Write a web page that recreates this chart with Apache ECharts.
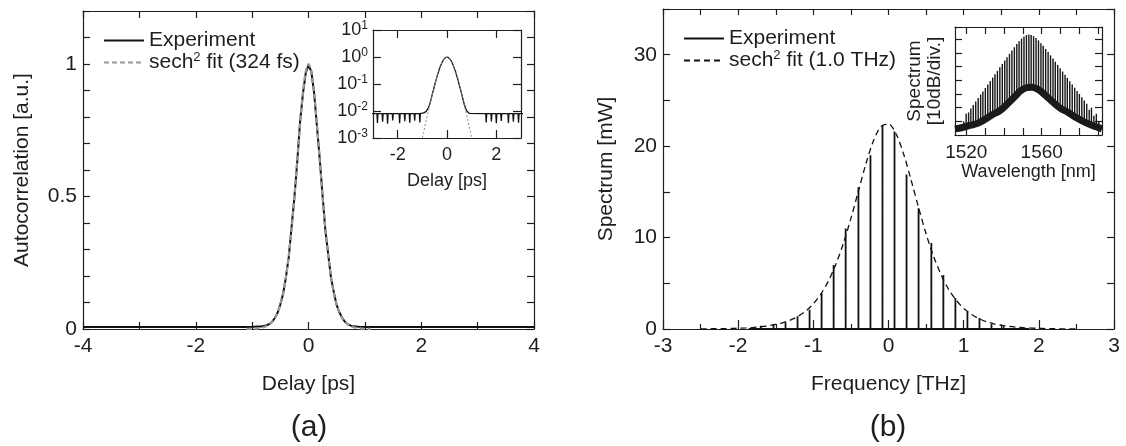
<!DOCTYPE html>
<html>
<head>
<meta charset="utf-8">
<script src="https://cdn.jsdelivr.net/npm/echarts@6/dist/echarts.min.js"></script>
<style>
  html, body { margin: 0; padding: 0; background: #fff; }
  #chart { width: 1126px; height: 446px; }
</style>
</head>
<body>
<div id="chart"></div>
<script>
// ---------- (a) intensity autocorrelation ----------
const acDelay = [-4.00, -3.40, -3.00,
  -2.84, -2.82, -2.80, -2.63, -2.61, -2.59, -2.43, -2.41, -2.39, -2.22, -2.20, -2.18,
  -1.94, -1.92, -1.90, -1.73, -1.71, -1.69, -1.53, -1.51, -1.49, -1.33, -1.31, -1.29,
  -1.12, -1.10, -1.08,
  -1.00, -0.95, -0.90, -0.85, -0.80, -0.75, -0.70, -0.65, -0.60, -0.55,
  -0.50, -0.45, -0.40, -0.35, -0.30, -0.25, -0.20, -0.15, -0.10, -0.05,
  0.00, 0.05, 0.10, 0.15, 0.20, 0.25, 0.30, 0.35, 0.40, 0.45,
  0.50, 0.55, 0.60, 0.65, 0.70, 0.75, 0.80, 0.85, 0.90, 0.95,
  1.57, 1.59, 1.61, 1.78, 1.80, 1.82, 1.98, 2.00, 2.02, 2.18, 2.20, 2.22,
  2.47, 2.49, 2.51, 2.67, 2.69, 2.71, 2.88, 2.90, 2.92,
  3.00, 3.40, 4.00];
const acSignal = [0.008, 0.008, 0.008,
  0.008, 0.0036, 0.008, 0.008, 0.0040, 0.008, 0.008, 0.0034, 0.008, 0.008, 0.0045, 0.008,
  0.008, 0.0035, 0.008, 0.008, 0.0042, 0.008, 0.008, 0.0037, 0.008, 0.008, 0.0044, 0.008,
  0.008, 0.0038, 0.008,
  0.0082, 0.0085, 0.0098, 0.0095, 0.0112, 0.0135, 0.0180, 0.0262, 0.0405, 0.0600,
  0.0920, 0.1330, 0.1960, 0.2720, 0.3850, 0.4970, 0.6300, 0.7800, 0.8850, 0.9650,
  0.9950, 0.9720, 0.8900, 0.7650, 0.6400, 0.5020, 0.3700, 0.2820, 0.1920, 0.1380,
  0.0900, 0.0620, 0.0410, 0.0265, 0.0178, 0.0128, 0.0100, 0.0090, 0.0082, 0.0080,
  0.008, 0.0038, 0.008, 0.008, 0.0041, 0.008, 0.008, 0.0035, 0.008, 0.008, 0.0043, 0.008,
  0.008, 0.0036, 0.008, 0.008, 0.0040, 0.008, 0.008, 0.0037, 0.008,
  0.008, 0.008, 0.008];

const acFitDelay = [-1.10, -1.05, -1.00, -0.95, -0.90, -0.85, -0.80, -0.75, -0.70, -0.65,
  -0.60, -0.55, -0.50, -0.45, -0.40, -0.35, -0.30, -0.25, -0.20, -0.15, -0.10, -0.05,
  0.00, 0.05, 0.10, 0.15, 0.20, 0.25, 0.30, 0.35, 0.40, 0.45, 0.50, 0.55,
  0.60, 0.65, 0.70, 0.75, 0.80, 0.85, 0.90, 0.95, 1.00, 1.05, 1.10];
const acFitValue = [0.000378, 0.000616, 0.00100, 0.00162, 0.00261, 0.00418, 0.00667, 0.01056, 0.0166, 0.0259,
  0.0400, 0.0610, 0.0916, 0.1352, 0.1955, 0.2759, 0.3778, 0.4998, 0.6354, 0.7712, 0.8896, 0.9709,
  1.0000, 0.9709, 0.8896, 0.7712, 0.6354, 0.4998, 0.3778, 0.2759, 0.1955, 0.1352, 0.0916, 0.0610,
  0.0400, 0.0259, 0.0166, 0.01056, 0.00667, 0.00418, 0.00261, 0.00162, 0.00100, 0.000616, 0.000378];

const acXTickLabels = [-4, -2, 0, 2, 4];
const acYTickLabels = [0, 0.5, 1];
const acInsetXTicks = [-2, 0, 2];

// ---------- (b) optical spectrum ----------
const combFreq = [-1.86, -1.70, -1.53, -1.37, -1.21, -1.05, -0.89, -0.73, -0.57, -0.40, -0.24, -0.08,
  0.08, 0.24, 0.40, 0.57, 0.73, 0.89, 1.05, 1.21, 1.37, 1.53, 1.70, 1.86];
const combPower = [0.2, 0.35, 0.55, 0.75, 1.4, 2.1, 3.9, 7.0, 11.0, 15.5, 19.0, 22.2,
  21.6, 16.9, 13.2, 9.4, 5.9, 3.4, 1.9, 1.2, 0.55, 0.3, 0.15, 0.1];

const spFitFreq = [-2.5, -2.4, -2.3, -2.2, -2.1, -2.0, -1.9, -1.8, -1.7, -1.6, -1.5, -1.4, -1.3,
  -1.2, -1.1, -1.0, -0.9, -0.8, -0.7, -0.6, -0.5, -0.4, -0.3, -0.2, -0.1, 0.0,
  0.1, 0.2, 0.3, 0.4, 0.5, 0.6, 0.7, 0.8, 0.9, 1.0, 1.1, 1.2, 1.3,
  1.4, 1.5, 1.6, 1.7, 1.8, 1.9, 2.0, 2.1, 2.2, 2.3, 2.4, 2.5];
const spFitPower = [0.015, 0.021, 0.030, 0.043, 0.061, 0.086, 0.123, 0.174, 0.248, 0.352, 0.498, 0.706, 0.998,
  1.406, 1.97, 2.76, 3.82, 5.24, 7.07, 9.38, 12.10, 15.09, 18.08, 20.59, 22.16, 22.44,
  21.36, 19.17, 16.32, 13.29, 10.41, 7.94, 5.92, 4.34, 3.15, 2.26, 1.61, 1.145, 0.810,
  0.573, 0.404, 0.285, 0.200, 0.141, 0.099, 0.070, 0.049, 0.035, 0.024, 0.017, 0.012];

const spXTickLabels = [-3, -2, -1, 0, 1, 2, 3];
const spYTickLabels = [0, 10, 20, 30];

// comb lines on the OSA trace (wavelength, floor level, peak level in dB)
const osaWl = [1518.6, 1519.9, 1521.2, 1522.4, 1523.7, 1525.0, 1526.3, 1527.6, 1528.8, 1530.1,
  1531.4, 1532.7, 1534.0, 1535.2, 1536.5, 1537.8, 1539.1, 1540.4, 1541.6, 1542.9,
  1544.2, 1545.5, 1546.8, 1548.0, 1549.3, 1550.6, 1551.9, 1553.2, 1554.4, 1555.7,
  1557.0, 1558.3, 1559.6, 1560.8, 1562.1, 1563.4, 1564.7, 1566.0, 1567.2, 1568.5,
  1569.8, 1571.1, 1572.4, 1573.6, 1574.9, 1576.2, 1577.5, 1578.8, 1580.0, 1581.3,
  1582.6, 1583.9, 1585.2, 1586.4, 1587.7, 1589.0, 1590.3];
const osaPeak = [-70.0, -64.5, -63.5, -60.6, -58.1, -55.5, -53.0, -50.4, -48.1, -45.6,
  -43.0, -40.5, -38.0, -35.6, -33.1, -30.5, -28.0, -25.5, -23.1, -20.6,
  -18.2, -15.8, -13.4, -11.4, -9.5, -7.9, -6.9, -6.5, -6.8, -7.7,
  -9.1, -10.8, -12.9, -14.8, -17.1, -19.3, -21.7, -24.1, -26.4, -28.8,
  -31.2, -33.6, -36.0, -38.2, -40.6, -43.0, -45.4, -47.8, -50.0, -52.4,
  -54.8, -57.2, -61.5, -60.0, -66.0, -64.5, -70.0];
const osaFloor = [-74.3, -73.8, -73.3, -72.9, -72.4, -71.9, -71.3, -70.5, -69.5, -68.4,
  -67.3, -66.1, -65.0, -64.1, -63.1, -62.1, -60.7, -59.0, -57.5, -55.8,
  -54.0, -52.0, -50.2, -48.8, -47.2, -46.2, -45.4, -45.1, -45.0, -45.3,
  -46.0, -46.7, -48.0, -49.4, -51.0, -52.5, -54.1, -55.8, -57.2, -58.7,
  -60.2, -61.3, -62.3, -63.2, -64.3, -65.4, -66.5, -67.6, -68.5, -69.2,
  -70.0, -70.8, -71.6, -72.5, -73.2, -74.0, -74.6];
// broadband pedestal under the comb
const pedWl = [1514, 1518, 1522, 1526, 1530, 1534, 1538, 1542, 1546, 1549, 1552,
  1555, 1558, 1562, 1566, 1570, 1574, 1578, 1582, 1586, 1589, 1592];
const pedDb = [-75.5, -74.5, -73.0, -71.5, -68.5, -65.0, -62.0, -57.0, -51.5, -47.5, -45.3,
  -45.0, -46.5, -51.0, -56.0, -60.5, -63.5, -67.0, -70.0, -72.5, -74.0, -75.5];

const osaXTicks = [1520, 1530, 1540, 1550, 1560, 1570, 1580, 1590];
const osaXTickLabels = [1520, 1560];

// ---------- styling ----------
const FONT = '"Liberation Sans", Arial, Helvetica, sans-serif';
const INK = '#1e1e1e';
const MAIN_SIZE = 21;
const INSET_SIZE = 18;
const AC_FIT_NAME = 'sech2 fit (324 fs)';
const SP_FIT_NAME = 'sech2 fit (1.0 THz)';

const zip = (xs, ys) => xs.map((x, i) => [x, ys[i]]);
const pick = list => v => {
  const hit = list.find(t => Math.abs(t - v) < 1e-6);
  return hit === undefined ? '' : String(hit);
};

function axis(extra, fontSize) {
  const size = fontSize || MAIN_SIZE;
  const base = {
    type: 'value',
    splitLine: { show: false },
    axisLine: { show: true, onZero: false, lineStyle: { color: INK, width: 1.2 } },
    axisTick: { show: true, inside: true, length: 7, lineStyle: { color: INK, width: 1.2 } },
    axisLabel: { color: INK, fontFamily: FONT, fontSize: size, margin: 8 },
    nameTextStyle: { color: INK, fontFamily: FONT, fontSize: size },
    nameLocation: 'middle'
  };
  const out = Object.assign({}, base, extra);
  ['axisLine', 'axisTick', 'axisLabel', 'nameTextStyle', 'minorTick'].forEach(k => {
    if (extra[k]) out[k] = Object.assign({}, base[k] || {}, extra[k]);
  });
  return out;
}

const supRich = (size, supSize) => ({
  t: { fontFamily: FONT, fontSize: size, color: INK, lineHeight: size + 2 },
  s: { fontFamily: FONT, fontSize: supSize, color: INK, verticalAlign: 'top', lineHeight: supSize }
});
const legendFormatter = name => name.startsWith('sech2')
  ? '{t|sech}{s|2}{t|' + name.slice(5) + '}'
  : '{t|' + name + '}';
const legendBase = {
  orient: 'vertical', itemWidth: 40, itemHeight: 14, itemGap: 0, padding: 0, selectedMode: false,
  itemStyle: { opacity: 0, borderWidth: 0 },
  formatter: legendFormatter, textStyle: { rich: supRich(MAIN_SIZE, 13) }
};

const option = {
  animation: false,
  backgroundColor: '#ffffff',
  grid: [
    { left: 83, top: 11, width: 451, height: 318, outerBoundsMode: 'none' },
    { left: 373, top: 30, width: 148, height: 108, outerBoundsMode: 'none' },
    { left: 663, top: 9, width: 451, height: 320, outerBoundsMode: 'none' },
    { left: 955, top: 27, width: 147, height: 108, outerBoundsMode: 'none' }
  ],
  xAxis: [
    axis({ gridIndex: 0, min: -4, max: 4, interval: 1, position: 'bottom',
      axisLabel: { formatter: pick(acXTickLabels), margin: 7 }, name: 'Delay [ps]', nameGap: 45 }),
    axis({ gridIndex: 0, min: -4, max: 4, interval: 1, position: 'top', axisLabel: { show: false } }),
    axis({ gridIndex: 1, min: -3, max: 3, position: 'bottom',
      axisTick: { customValues: acInsetXTicks, length: 8 },
      axisLabel: { customValues: acInsetXTicks, margin: 8 }, name: 'Delay [ps]', nameGap: 34 }, INSET_SIZE),
    axis({ gridIndex: 1, min: -3, max: 3, position: 'top',
      axisTick: { customValues: acInsetXTicks, length: 8 }, axisLabel: { show: false } }, INSET_SIZE),
    axis({ gridIndex: 2, min: -3, max: 3, interval: 1, position: 'bottom',
      axisTick: { length: 9 }, minorTick: { show: true, splitNumber: 2, length: 5, lineStyle: { color: INK, width: 1.2 } },
      axisLabel: { formatter: pick(spXTickLabels), margin: 7 }, name: 'Frequency [THz]', nameGap: 45 }),
    axis({ gridIndex: 2, min: -3, max: 3, interval: 1, position: 'top',
      axisTick: { length: 6 }, minorTick: { show: true, splitNumber: 2, length: 6, lineStyle: { color: INK, width: 1.2 } },
      axisLabel: { show: false } }),
    axis({ gridIndex: 3, min: 1514, max: 1592, position: 'bottom',
      axisTick: { customValues: osaXTicks, length: 7 },
      axisLabel: { customValues: osaXTickLabels, margin: 8, formatter: v => String(v), fontSize: 19 },
      name: 'Wavelength [nm]', nameGap: 28 }, INSET_SIZE),
    axis({ gridIndex: 3, min: 1514, max: 1592, position: 'top',
      axisTick: { customValues: osaXTicks, length: 7 }, axisLabel: { show: false } }, INSET_SIZE)
  ],
  yAxis: [
    axis({ gridIndex: 0, min: 0, max: 1.2, interval: 0.1, position: 'left',
      axisLabel: { formatter: pick(acYTickLabels), margin: 6 }, name: 'Autocorrelation [a.u.]', nameGap: 50 }),
    axis({ gridIndex: 0, min: 0, max: 1.2, interval: 0.1, position: 'right', axisLabel: { show: false } }),
    axis({ gridIndex: 1, type: 'log', logBase: 10, min: 0.001, max: 10, position: 'left',
      axisTick: { length: 8 },
      axisLabel: {
        margin: 5,
        formatter: v => '{t|10}{s|' + Math.round(Math.log10(v)) + '}',
        rich: supRich(INSET_SIZE, 12)
      } }, INSET_SIZE),
    axis({ gridIndex: 1, type: 'log', logBase: 10, min: 0.001, max: 10, position: 'right',
      axisTick: { length: 8 }, axisLabel: { show: false } }, INSET_SIZE),
    axis({ gridIndex: 2, min: 0, max: 35, interval: 5, position: 'left',
      axisLabel: { formatter: pick(spYTickLabels), margin: 6 }, name: 'Spectrum [mW]', nameGap: 46 }),
    axis({ gridIndex: 2, min: 0, max: 35, interval: 5, position: 'right', axisLabel: { show: false } }),
    axis({ gridIndex: 3, min: -80, max: -1, interval: 10, position: 'left',
      axisLabel: { show: false }, name: 'Spectrum\n[10dB/div.]', nameGap: 10,
      nameTextStyle: { lineHeight: 20, fontSize: 19 } }, INSET_SIZE),
    axis({ gridIndex: 3, min: -80, max: -1, interval: 10, position: 'right', axisLabel: { show: false } }, INSET_SIZE)
  ],
  legend: [
    Object.assign({ data: ['Experiment', AC_FIT_NAME], left: 103, top: 30 }, legendBase),
    Object.assign({ data: ['Experiment', SP_FIT_NAME], left: 683, top: 28 }, legendBase)
  ],
  series: [
    // (a) main, linear scale
    { type: 'line', name: 'Experiment', xAxisIndex: 0, yAxisIndex: 0, data: zip(acDelay, acSignal),
      symbol: 'none', color: '#111', lineStyle: { color: '#111', width: 2 }, z: 3 },
    { type: 'line', name: AC_FIT_NAME, xAxisIndex: 0, yAxisIndex: 0, data: zip(acFitDelay, acFitValue),
      symbol: 'none', smooth: 0.3, color: '#9a9a9a', lineStyle: { color: '#9a9a9a', width: 2.2, type: [5, 3] }, z: 4 },
    // (a) inset, log scale
    { type: 'line', name: 'Autocorrelation (log)', xAxisIndex: 2, yAxisIndex: 2, data: zip(acDelay, acSignal),
      symbol: 'none', lineStyle: { color: '#111', width: 1.3 }, z: 3 },
    { type: 'line', name: 'Fit (log)', xAxisIndex: 2, yAxisIndex: 2, data: zip(acFitDelay, acFitValue),
      symbol: 'none', smooth: 0.3, lineStyle: { color: '#8a8a8a', width: 1, type: [2, 2] }, z: 4 },
    // (b) main, comb lines
    { type: 'line', name: 'Experiment', xAxisIndex: 4, yAxisIndex: 4,
      data: combFreq.flatMap((f, i) => [[f, 0], [f, combPower[i]], [f, 0]]),
      symbol: 'none', color: '#111', lineStyle: { color: '#111', width: 1.8 }, z: 3 },
    { type: 'line', name: SP_FIT_NAME, xAxisIndex: 4, yAxisIndex: 4, data: zip(spFitFreq, spFitPower),
      symbol: 'none', smooth: 0.3, color: '#111', lineStyle: { color: '#111', width: 1.3, type: [6, 4] }, z: 4 },
    // (b) inset, OSA trace in dB
    { type: 'custom', name: 'Comb (dB)', xAxisIndex: 6, yAxisIndex: 6,
      data: osaWl.map((w, i) => [w, osaFloor[i], osaPeak[i]]),
      encode: { x: 0, y: [1, 2] },
      renderItem: (params, api) => {
        const a = api.coord([api.value(0), api.value(1)]);
        const b = api.coord([api.value(0), api.value(2)]);
        return { type: 'line', shape: { x1: a[0], y1: a[1], x2: b[0], y2: b[1] },
          style: { stroke: '#151515', lineWidth: 1.4 } };
      }, z: 3 },
    { type: 'line', name: 'Pedestal (dB)', xAxisIndex: 6, yAxisIndex: 6, data: zip(pedWl, pedDb),
      symbol: 'none', smooth: 0.4, lineStyle: { color: '#1a1a1a', width: 7 }, z: 4 }
  ],
  graphic: [
    { type: 'text', x: 309, y: 428, style: { text: '(a)', font: '30px ' + FONT, fill: INK, align: 'center', verticalAlign: 'middle' } },
    { type: 'text', x: 888, y: 428, style: { text: '(b)', font: '30px ' + FONT, fill: INK, align: 'center', verticalAlign: 'middle' } }
  ]
};

const chart = echarts.init(document.getElementById('chart'), null, { renderer: 'canvas' });
chart.setOption(option);
</script>
</body>
</html>
